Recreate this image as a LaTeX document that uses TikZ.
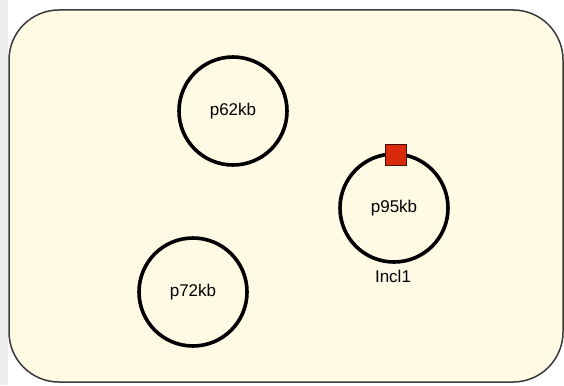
\documentclass[tikz,border=0pt]{standalone}
\usepackage{fontspec}
\setmainfont{Liberation Sans}
\definecolor{cream}{HTML}{FEFAE4}
\definecolor{boxline}{HTML}{3A3A3A}
\definecolor{strip}{HTML}{EEEEEE}
\definecolor{marker}{HTML}{D8290B}
\begin{document}
\begin{tikzpicture}[x=1pt,y=-1pt,
  plasmid/.style={circle,draw=black,line width=3.6pt,minimum size=108pt,inner sep=0pt,font=\fontsize{17}{20}\selectfont},
  lbl/.style={font=\fontsize{17}{20}\selectfont,inner sep=0pt},
  mark/.style={}]
\useasboundingbox (0,0) rectangle (564,385);
\fill[white] (0,0) rectangle (564,385);
\fill[strip] (0,0) rectangle (8,385);
\draw[boxline,fill=cream,line width=1.5pt,rounded corners=50pt] (9,10) rectangle (563,382);
\node[plasmid] (p62) at (233,111) {p62kb};
\node[plasmid] (p95) at (394,208) {p95kb};
\node[plasmid] (p72) at (193,292) {p72kb};
\node[rectangle,draw=black!70!marker,fill=marker,line width=0.8pt,minimum size=21pt,inner sep=0pt] (sq) at (395.5,155) {};
\node[lbl] (incl) at (393,276) {Incl1};
\end{tikzpicture}
\end{document}
